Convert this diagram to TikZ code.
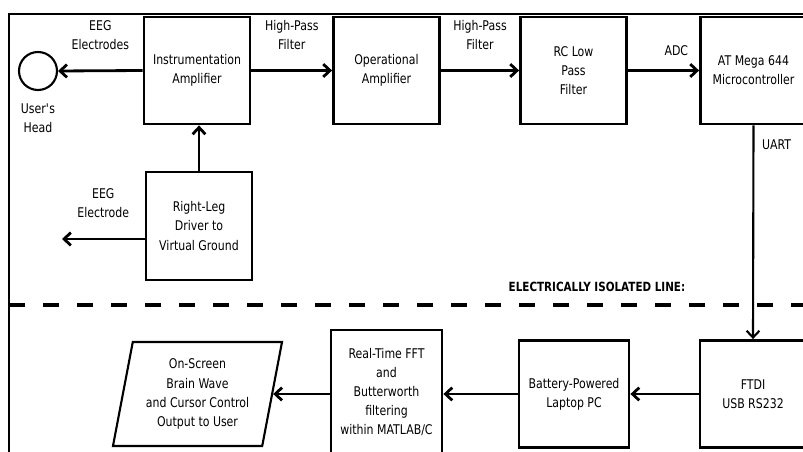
\documentclass[tikz,border=0pt]{standalone}
\usepackage{fontspec}
\setmainfont{DejaVu Sans}[FakeStretch=0.82]
\usetikzlibrary{arrows.meta,positioning,shapes.geometric}

\begin{document}
\begin{tikzpicture}[x=0.025cm,y=-0.025cm,
  font=\fontsize{9.5}{13.6}\selectfont,
  block/.style={draw,line width=2pt,minimum width=2.65cm,minimum height=2.675cm,align=center,inner sep=1pt},
  flow/.style={line width=2pt,-{Straight Barb[length=1.7mm,width=3.2mm]}},
  lbl/.style={align=center,inner sep=1pt}]
  \useasboundingbox (0,0) rectangle (803,452);

  % frame
  \draw[line width=1pt] (803,14) -- (9,14) -- (9,452);

  % signal chain (top)
  \node[block] (ia) at (197,70.5) {Instrumentation\\Amplifier};
  \node[block] (opamp) at (386.5,70.5) {Operational\\Amplifier};
  \node[block] (rc) at (573.5,70.5) {RC Low\\Pass\\Filter};
  \node[block] (mcu) at (753.5,70.5) {AT Mega 644\\Microcontroller};

  % head and electrodes
  \node[circle,draw,line width=1.5pt,minimum size=0.95cm] (head) at (38,71) {};
  \node[lbl] (headlbl) at (38,118) {User\textquotesingle s\\Head};
  \node[block,minimum height=2.7cm] (rld) at (199,226) {Right-Leg\\Driver to\\Virtual Ground};
  \coordinate (rle) at (62,239);

  \draw[flow] (ia.west) -- (head.east) node[lbl,midway,above=4.5mm] {EEG\\Electrodes};
  \draw[flow] (ia.east) -- (opamp.west) node[lbl,midway,above=4.5mm] {High-Pass\\Filter};
  \draw[flow] (opamp.east) -- (rc.west) node[lbl,midway,above=4.5mm] {High-Pass\\Filter};
  \draw[flow] (rc.east) -- (mcu.west) node[lbl,pos=0.68,above=3mm] {ADC};
  \draw[flow] (rld.north) -- (rld.north |- ia.south);
  \draw[flow] (rld.west |- rle) -- (rle) node[lbl,midway,above=4.5mm] {EEG\\Electrode};

  % isolation
  \draw[line width=2.8pt,dash pattern=on 0.4cm off 0.45cm] (9,305) -- (803,305);
  \node[font=\bfseries\fontsize{9}{11}\selectfont] (iso) at (597,287) {ELECTRICALLY ISOLATED LINE:};

  % PC side (bottom)
  \node[block] (ftdi) at (753,394) {FTDI\\USB RS232};
  \node[block,minimum width=2.75cm] (laptop) at (574,394) {Battery-Powered\\Laptop PC};
  \node[block,minimum width=2.775cm,minimum height=3.1cm] (fft) at (386.5,392)
    {Real-Time FFT\\and\\Butterworth\\filtering\\within MATLAB/C};
  \node[trapezium,draw,line width=1.5pt,trapezium left angle=76,trapezium right angle=104,
    trapezium stretches body,minimum width=4.225cm,minimum height=2.6cm,align=center] (out) at (197.5,394)
    {On-Screen\\Brain Wave\\and Cursor Control\\Output to User};

  \draw[flow,line width=1.5pt] (mcu.south) -- (ftdi.north) node[pos=0.09,right=2pt] {UART};
  \draw[flow] (ftdi.west) -- (laptop.east);
  \draw[flow] (laptop.west) -- (laptop.west -| fft.east);
  \draw[flow] (out.east -| fft.west) -- (out.east);
\end{tikzpicture}
\end{document}
